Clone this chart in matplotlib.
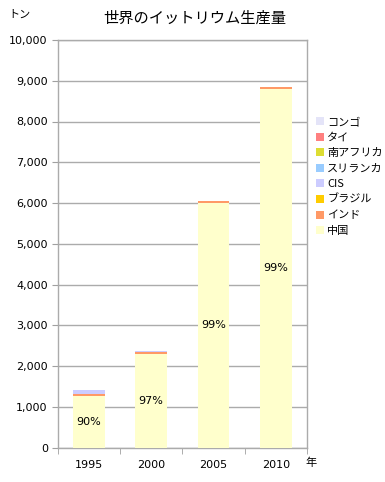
import matplotlib
matplotlib.use("Agg")
import matplotlib.pyplot as plt
import numpy as np
from matplotlib.ticker import FuncFormatter, MultipleLocator, FixedLocator

plt.rcParams['font.family'] = ['Noto Sans CJK JP', 'DejaVu Sans']

years = ['1995', '2000', '2005', '2010']
countries = ['中国', 'インド', 'ブラジル', 'CIS', 'スリランカ', '南アフリカ', 'タイ', 'コンゴ']
colors = ['#FFFFCC', '#FF9966', '#FFCC00', '#CCCCFF', '#99CCFF', '#DDDD33', '#FF8080', '#E4E4F8']
china = [1270, 2300, 6000, 8800]
india = [55, 50, 50, 50]
brazil = [0, 0, 0, 0]
cis = [85, 20, 0, 0]
srilanka = [0, 0, 0, 0]
safrica = [0, 0, 0, 0]
thai = [0, 0, 0, 0]
congo = [0, 0, 0, 0]
series = [china, india, brazil, cis, srilanka, safrica, thai, congo]

fig = plt.figure(figsize=(3.85, 4.82), dpi=100)
ax = fig.add_axes([57.5/385, 1-447.5/482, (307-57.5)/385, (447.5-40)/482])

x = np.arange(len(years))
bottom = np.zeros(len(years))
handles = []
for name, vals, c in zip(countries, series, colors):
    b = ax.bar(x, vals, 0.51, bottom=bottom, color=c, label=name, zorder=3, linewidth=0)
    handles.append(b)
    bottom += np.array(vals)

totals = bottom
for i in range(len(years)):
    pct = round(china[i] / totals[i] * 100)
    ax.text(x[i], china[i] / 2, f'{pct}%', ha='center', va='center', fontsize=8, zorder=4,
            family=['DejaVu Sans'])

ax.set_xlim(-0.5, 3.5)
ax.set_ylim(0, 10000)
ax.yaxis.set_major_locator(MultipleLocator(1000))
ax.yaxis.set_major_formatter(FuncFormatter(lambda v, p: f'{int(v):,}'))
ax.set_xticks(x)
ax.set_xticklabels(years)
ax.xaxis.set_minor_locator(FixedLocator([-0.5, 0.5, 1.5, 2.5, 3.5]))
ax.tick_params(axis='x', which='major', length=0, labelsize=8, pad=9)
ax.tick_params(axis='x', which='minor', length=4, color='#A0A0A0', direction='out')
ax.tick_params(axis='y', length=4, color='#A0A0A0', direction='out', labelsize=8, pad=3)
for lab in ax.get_xticklabels() + ax.get_yticklabels():
    lab.set_family(['DejaVu Sans'])
ax.grid(axis='y', color='#ABABAB', linewidth=1, zorder=1)
for s in ax.spines.values():
    s.set_color('#ABABAB')
    s.set_linewidth(1)

fig.text(195/385, 1-18/482, '世界のイットリウム生産量', ha='center', va='center', fontsize=11)
fig.text(8/385, 1-15/482, 'トン', ha='left', va='center', fontsize=8)
fig.text(305/385, 1-463/482, '年', ha='left', va='center', fontsize=8)

leg = fig.legend(handles[::-1], countries[::-1], loc='upper left',
                 bbox_to_anchor=(316/385, 1-117/482), frameon=False, fontsize=8,
                 handlelength=0.7, handleheight=0.7, handletextpad=0.3,
                 labelspacing=0.5, borderpad=0, borderaxespad=0)

fig.savefig('out.png', dpi=100)
